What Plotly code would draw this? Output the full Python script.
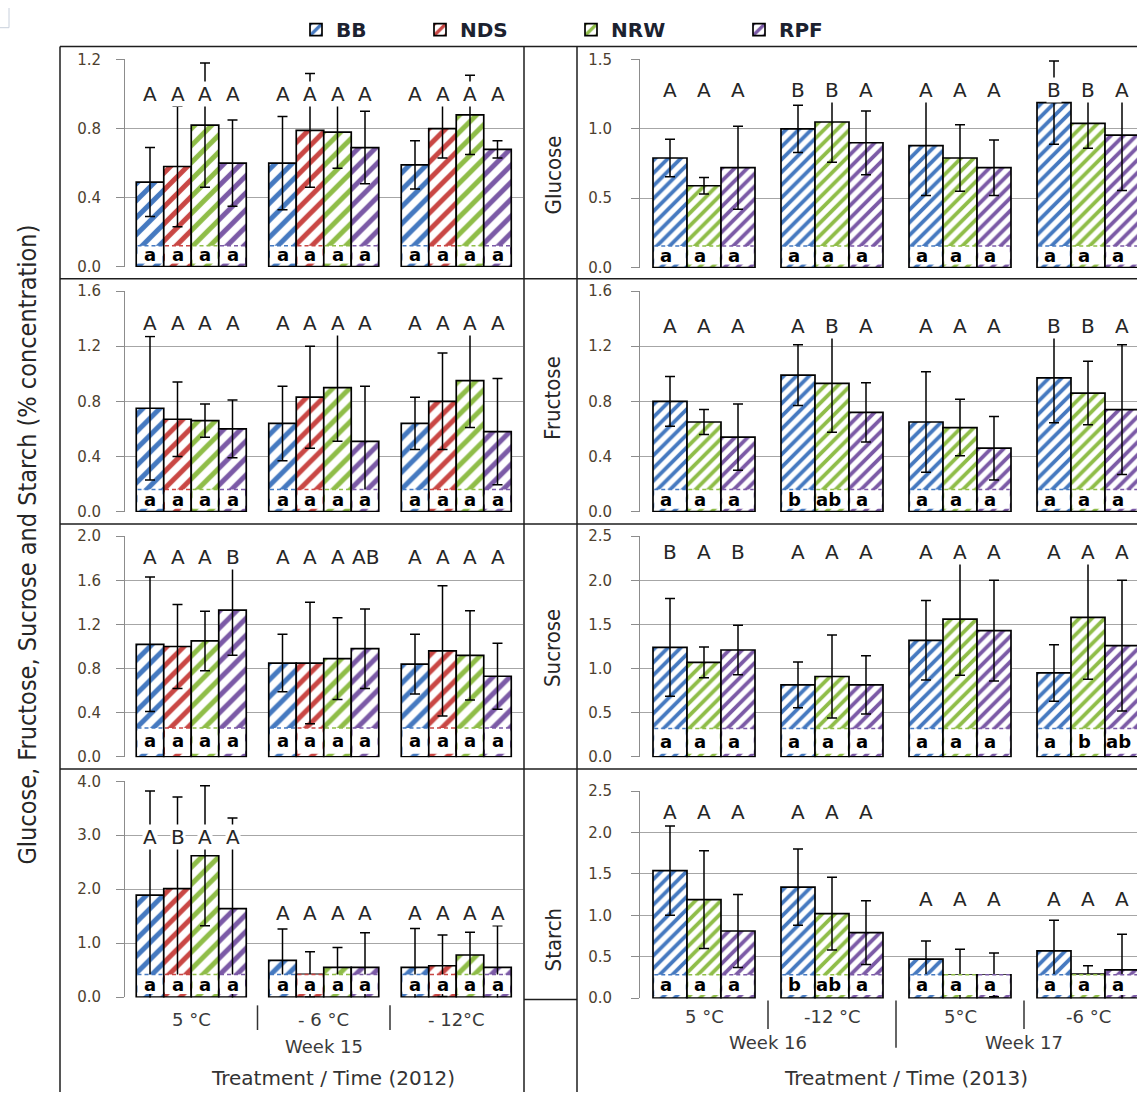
import plotly.graph_objects as go

# ---------------------------------------------------------------- data
SERIES_2012 = ["BB", "NDS", "NRW", "RPF"]
SERIES_2013 = ["BB", "NRW", "RPF"]

TREATMENTS_2012 = ["5 °C", "- 6 °C", "- 12°C"]
WEEKS_2012 = ["Week 15"]
TREATMENTS_2013 = ["5 °C", "-12 °C", "5°C", "-6 °C"]
WEEKS_2013 = ["Week 16", "Week 17"]

SUGARS = ["Glucose", "Fructose", "Sucrose", "Starch"]

# 2012: mean concentration per cultivar, one value per treatment
glucose_2012 = {"BB": [0.49, 0.60, 0.59], "NDS": [0.58, 0.79, 0.80],
                "NRW": [0.82, 0.78, 0.88], "RPF": [0.60, 0.69, 0.68]}
glucose_2012_err = {"BB": [0.20, 0.27, 0.14], "NDS": [0.35, 0.33, 0.17],
                    "NRW": [0.36, 0.21, 0.23], "RPF": [0.25, 0.21, 0.05]}
fructose_2012 = {"BB": [0.75, 0.64, 0.64], "NDS": [0.67, 0.83, 0.80],
                 "NRW": [0.66, 0.90, 0.95], "RPF": [0.60, 0.51, 0.58]}
fructose_2012_err = {"BB": [0.52, 0.27, 0.19], "NDS": [0.27, 0.37, 0.35],
                     "NRW": [0.12, 0.39, 0.34], "RPF": [0.21, 0.40, 0.385]}
sucrose_2012 = {"BB": [1.02, 0.85, 0.84], "NDS": [1.00, 0.85, 0.96],
                "NRW": [1.05, 0.89, 0.92], "RPF": [1.33, 0.98, 0.73]}
sucrose_2012_err = {"BB": [0.61, 0.26, 0.27], "NDS": [0.38, 0.55, 0.59],
                    "NRW": [0.27, 0.37, 0.405], "RPF": [0.41, 0.36, 0.30]}
starch_2012 = {"BB": [1.89, 0.68, 0.55], "NDS": [2.01, 0.42, 0.58],
               "NRW": [2.62, 0.55, 0.78], "RPF": [1.64, 0.55, 0.55]}
starch_2012_err = {"BB": [1.93, 0.58, 0.72], "NDS": [1.70, 0.42, 0.57],
                   "NRW": [1.30, 0.37, 0.42], "RPF": [1.68, 0.64, 0.77]}

# 2012 significance letters (upper: between cultivars, lower: within)
glucose_2012_upper = {"BB": ["A", "A", "A"], "NDS": ["A", "A", "A"],
                      "NRW": ["A", "A", "A"], "RPF": ["A", "A", "A"]}
fructose_2012_upper = {"BB": ["A", "A", "A"], "NDS": ["A", "A", "A"],
                       "NRW": ["A", "A", "A"], "RPF": ["A", "A", "A"]}
sucrose_2012_upper = {"BB": ["A", "A", "A"], "NDS": ["A", "A", "A"],
                      "NRW": ["A", "A", "A"], "RPF": ["B", "AB", "A"]}
starch_2012_upper = {"BB": ["A", "A", "A"], "NDS": ["B", "A", "A"],
                     "NRW": ["A", "A", "A"], "RPF": ["A", "A", "A"]}
lower_2012_all_a = {"BB": ["a", "a", "a"], "NDS": ["a", "a", "a"],
                    "NRW": ["a", "a", "a"], "RPF": ["a", "a", "a"]}

# 2013: Week 16 (5 °C, -12 °C) and Week 17 (5 °C, -6 °C)
glucose_2013 = {"BB": [0.79, 1.00, 0.88, 1.19], "NRW": [0.59, 1.05, 0.79, 1.04],
                "RPF": [0.72, 0.90, 0.72, 0.955]}
glucose_2013_err = {"BB": [0.135, 0.17, 0.36, 0.30], "NRW": [0.06, 0.29, 0.24, 0.18],
                    "RPF": [0.30, 0.23, 0.20, 0.40]}
fructose_2013 = {"BB": [0.80, 0.99, 0.65, 0.97], "NRW": [0.65, 0.93, 0.61, 0.86],
                 "RPF": [0.54, 0.72, 0.46, 0.74]}
fructose_2013_err = {"BB": [0.18, 0.22, 0.365, 0.325], "NRW": [0.09, 0.355, 0.205, 0.23],
                     "RPF": [0.24, 0.215, 0.23, 0.47]}
sucrose_2013 = {"BB": [1.24, 0.815, 1.32, 0.95], "NRW": [1.07, 0.91, 1.56, 1.58],
                "RPF": [1.21, 0.815, 1.43, 1.26]}
sucrose_2013_err = {"BB": [0.555, 0.26, 0.45, 0.32], "NRW": [0.175, 0.47, 0.635, 0.70],
                    "RPF": [0.28, 0.33, 0.57, 0.74]}
starch_2013 = {"BB": [1.54, 1.34, 0.47, 0.57], "NRW": [1.19, 1.02, 0.28, 0.29],
               "RPF": [0.81, 0.79, 0.28, 0.34]}
starch_2013_err = {"BB": [0.54, 0.46, 0.22, 0.37], "NRW": [0.59, 0.44, 0.31, 0.10],
                   "RPF": [0.44, 0.385, 0.265, 0.43]}

glucose_2013_upper = {"BB": ["A", "B", "A", "B"], "NRW": ["A", "B", "A", "B"],
                      "RPF": ["A", "A", "A", "A"]}
glucose_2013_lower = {"BB": ["a", "a", "a", "a"], "NRW": ["a", "a", "a", "a"],
                      "RPF": ["a", "a", "a", "a"]}
fructose_2013_upper = {"BB": ["A", "A", "A", "B"], "NRW": ["A", "B", "A", "B"],
                       "RPF": ["A", "A", "A", "A"]}
fructose_2013_lower = {"BB": ["a", "b", "a", "a"], "NRW": ["a", "ab", "a", "a"],
                       "RPF": ["a", "a", "a", "a"]}
sucrose_2013_upper = {"BB": ["B", "A", "A", "A"], "NRW": ["A", "A", "A", "A"],
                      "RPF": ["B", "A", "A", "A"]}
sucrose_2013_lower = {"BB": ["a", "a", "a", "a"], "NRW": ["a", "a", "a", "b"],
                      "RPF": ["a", "a", "a", "ab"]}
starch_2013_upper = {"BB": ["A", "A", "A", "A"], "NRW": ["A", "A", "A", "A"],
                     "RPF": ["A", "A", "A", "A"]}
starch_2013_lower = {"BB": ["a", "b", "a", "a"], "NRW": ["a", "ab", "a", "a"],
                     "RPF": ["a", "a", "a", "a"]}

# ---------------------------------------------------------------- styling
W, H = 1137, 1101
COLORS = {"BB": "#4579C0", "NDS": "#C94744", "NRW": "#8FBD48", "RPF": "#7B5AA6"}
FONT = "DejaVu Sans, Verdana, sans-serif"
NARROW = "Liberation Sans Narrow, DejaVu Sans Condensed, Arial Narrow, sans-serif"
TICK_COLOR = "#4d3f2f"
GRID = "#a6a6a6"
FRAME = "#1e1e1e"


def xp(p):
    return p / W


def yp(p):
    return 1 - p / H


# pixel geometry of the two columns of panels
LEFT_X = (125, 522.5)
RIGHT_X = (640, 1137)
LEFT_ROWS = [(263, 52), (512, 287), (761, 536), (1005, 785)]
RIGHT_ROWS = [(264, 52), (512, 287), (761, 536), (1006, 795)]
LEFT_UNIT = (LEFT_X[1] - LEFT_X[0]) / 3          # px per treatment group
RIGHT_UNIT = 128.0

panels = [
    # year, row, means, errors, upper, lower, ymax, dtick, band, letter heights
    (2012, 0, glucose_2012, glucose_2012_err, glucose_2012_upper, lower_2012_all_a,
     1.2, 0.4, 0.12, [1.0, 1.0, 1.0]),
    (2012, 1, fructose_2012, fructose_2012_err, fructose_2012_upper, lower_2012_all_a,
     1.6, 0.4, 0.16, [1.365] * 3),
    (2012, 2, sucrose_2012, sucrose_2012_err, sucrose_2012_upper, lower_2012_all_a,
     2.0, 0.4, 0.26, [1.81] * 3),
    (2012, 3, starch_2012, starch_2012_err, starch_2012_upper, lower_2012_all_a,
     4.0, 1.0, 0.42, [2.96, 1.56, 1.56]),
    (2013, 0, glucose_2013, glucose_2013_err, glucose_2013_upper, glucose_2013_lower,
     1.5, 0.5, 0.155, [1.28] * 4),
    (2013, 1, fructose_2013, fructose_2013_err, fructose_2013_upper, fructose_2013_lower,
     1.6, 0.4, 0.16, [1.344] * 4),
    (2013, 2, sucrose_2013, sucrose_2013_err, sucrose_2013_upper, sucrose_2013_lower,
     2.5, 0.5, 0.32, [2.32] * 4),
    (2013, 3, starch_2013, starch_2013_err, starch_2013_upper, starch_2013_lower,
     2.5, 0.5, 0.28, [2.25, 2.25, 1.20, 1.20]),
]

fig = go.Figure()
annotations = []
shapes = []
layout_axes = {}


def paper_text(x, y, text, size, color="#3a3a3a", family=FONT, angle=0, xref="paper"):
    return dict(x=x, y=y, xref=xref, yref="paper", text=text, showarrow=False,
                xanchor="center", yanchor="middle", textangle=angle,
                font=dict(family=family, size=size, color=color))


for k, (year, row, means, errs, upper, lower, ymax, dtick, band, letter_y) in enumerate(panels, start=1):
    s = "" if k == 1 else str(k)
    xa, ya = "x" + s, "y" + s
    if year == 2012:
        series, xdom, (ybot, ytop), unit = SERIES_2012, LEFT_X, LEFT_ROWS[row], LEFT_UNIT
        ngroups, bw, pat_size, lx_shift = len(TREATMENTS_2012), 27.5 / LEFT_UNIT, 12, 0
        tick_standoff = 12
    else:
        series, xdom, (ybot, ytop), unit = SERIES_2013, RIGHT_X, RIGHT_ROWS[row], RIGHT_UNIT
        ngroups, bw, pat_size, lx_shift = len(TREATMENTS_2013), 34 / RIGHT_UNIT, 9, -4
        tick_standoff = 16

    plot_h = ybot - ytop
    xmax = -0.5 + (xdom[1] - xdom[0]) / unit
    eps = ymax * 0.002
    ticks = [round(i * dtick, 3) for i in range(int(round(ymax / dtick)) + 1)]

    layout_axes["xaxis" + s] = dict(domain=[xp(xdom[0]), xp(xdom[1])], range=[-0.5, xmax],
                                    anchor=ya, visible=False, fixedrange=True)
    layout_axes["yaxis" + s] = dict(
        domain=[yp(ybot), yp(ytop)], range=[-eps, ymax + eps], anchor=xa,
        tickmode="array", tickvals=ticks, ticktext=[f"{t:.1f}" for t in ticks],
        showgrid=True, gridcolor=GRID, gridwidth=1, zeroline=False,
        showline=True, linecolor="#8c8c8c", linewidth=1,
        ticks="outside", ticklen=8, tickcolor="#8c8c8c", tickwidth=1,
        ticklabelstandoff=tick_standoff,
        tickfont=dict(family=FONT, size=15, color=TICK_COLOR), fixedrange=True)

    n = len(series)
    gap = 3 * ymax / plot_h                      # thin hatched strip under the label box
    inner = bw - 2.5 / unit
    offsets = {name: (i - (n - 1) / 2) * bw for i, name in enumerate(series)}

    # hatched bars with error bars
    for name in series:
        xs = [g + offsets[name] for g in range(ngroups)]
        fig.add_trace(go.Bar(
            x=xs, y=means[name], width=bw, name=name, xaxis=xa, yaxis=ya,
            marker=dict(color="white",
                        line=dict(color="black", width=1.7),
                        pattern=dict(shape="/", fgcolor=COLORS[name], bgcolor="white",
                                     fgopacity=1, size=pat_size, solidity=0.42)),
            error_y=dict(type="data", array=errs[name], symmetric=True,
                         color="black", thickness=1.5, width=5),
            showlegend=(k == 1), legend={"BB": "legend", "NDS": "legend2",
                                         "NRW": "legend3", "RPF": "legend4"}[name],
            hoverinfo="skip"))

    # white label boxes at the foot of every bar
    for name in series:
        xs = [g + offsets[name] for g in range(ngroups)]
        fig.add_trace(go.Bar(
            x=xs, y=[band - gap] * ngroups, base=gap, width=inner, xaxis=xa, yaxis=ya,
            marker=dict(color="white", line=dict(width=0)),
            showlegend=False, hoverinfo="skip"))

    # dashed coloured top edge of the label boxes
    for name in series:
        lx, ly = [], []
        for g in range(ngroups):
            c = g + offsets[name]
            lx += [c - inner / 2, c + inner / 2, None]
            ly += [band, band, None]
        fig.add_trace(go.Scatter(
            x=lx, y=ly, mode="lines", xaxis=xa, yaxis=ya,
            line=dict(color=COLORS[name], width=1.5, dash="4px,3px"),
            showlegend=False, hoverinfo="skip"))

    # significance letters
    for name in series:
        for g in range(ngroups):
            c = g + offsets[name]
            annotations.append(dict(
                x=c, y=letter_y[g], xref=xa, yref=ya, text=upper[name][g], showarrow=False,
                xanchor="center", yanchor="middle",
                font=dict(family=FONT, size=20, color="#262626"),
                bgcolor="white", borderpad=0))
            annotations.append(dict(
                x=c, y=band / 2 + gap / 2, xref=xa, yref=ya, text=lower[name][g],
                showarrow=False, xshift=lx_shift, xanchor="center", yanchor="middle",
                font=dict(family=FONT, size=18, color="black", weight="bold")))

fig.update_layout(**layout_axes)

# treatment / week labels under the bottom panels
for g, lab in enumerate(TREATMENTS_2012):
    annotations.append(paper_text(g, yp(1027), lab, 18, xref="x4"))
annotations.append(paper_text((len(TREATMENTS_2012) - 1) / 2, yp(1055), WEEKS_2012[0], 18,
                              xref="x4"))
annotations.append(paper_text(xp(333), yp(1087), "Treatment / Time (2012)", 20, "#333333"))
for g, lab in enumerate(TREATMENTS_2013):
    annotations.append(paper_text(g, yp(1024), lab, 18, xref="x8"))
for w, lab in enumerate(WEEKS_2013):
    annotations.append(paper_text(2 * w + 0.5, yp(1051), lab, 18, xref="x8"))
annotations.append(paper_text(xp(906), yp(1087), "Treatment / Time (2013)", 20, "#333333"))

# group separators on the category axes
for sep in [0.5, 1.5]:
    shapes.append(dict(type="line", xref="x4", yref="paper", x0=sep, x1=sep,
                       y0=yp(1013), y1=yp(1038), line=dict(color="#333333", width=1.5)))
for sep, bottom in [(0.5, 1037), (1.5, 1056), (2.5, 1037)]:
    shapes.append(dict(type="line", xref="x8", yref="paper", x0=sep, x1=sep,
                       y0=yp(1008), y1=yp(bottom), line=dict(color="#333333", width=1.5)))

# sugar names beside the 2013 panels
for lab, yc in zip(SUGARS, [170, 396, 650, 946]):
    annotations.append(paper_text(xp(553), yp(yc), lab, 22, "#262626", NARROW, -90))

# shared y-axis title
annotations.append(paper_text(xp(28), yp(545),
                              "Glucose, Fructose, Sucrose and Starch (% concentration)",
                              25, "#262626", NARROW, -90))

# table-like frame around the panels
frame = [
    (60, 39, W, 39), (60, 275, W, 275), (60, 524, W, 524), (60, 773, W, 773),
    (60, 39, 60, H), (524, 39, 524, H), (577, 39, 577, H), (524, 1007, 577, 1007),
]
for x0, y0, x1, y1 in frame:
    shapes.append(dict(type="line", xref="paper", yref="paper", x0=xp(x0), y0=yp(y0),
                       x1=xp(x1), y1=yp(y1), line=dict(color=FRAME, width=1.5)))
shapes.append(dict(type="line", xref="paper", yref="paper", x0=xp(9), y0=yp(0),
                   x1=xp(9), y1=yp(20), line=dict(color="#c8d0dc", width=1)))
shapes.append(dict(type="line", xref="paper", yref="paper", x0=xp(0), y0=yp(20),
                   x1=xp(9), y1=yp(20), line=dict(color="#c8d0dc", width=1)))

legend_font = dict(family=FONT, size=20, color="#1c2230", weight="bold")
legends = {}
for key, cx in zip(["legend", "legend2", "legend3", "legend4"], [316, 440, 591, 759]):
    legends[key] = dict(x=xp(cx - 20), y=yp(22), xanchor="left", yanchor="middle",
                        orientation="h", font=legend_font, bgcolor="rgba(0,0,0,0)",
                        itemwidth=30, borderwidth=0)

fig.update_layout(
    width=W, height=H, margin=dict(l=0, r=0, t=0, b=0),
    paper_bgcolor="white", plot_bgcolor="white",
    barmode="overlay", annotations=annotations, shapes=shapes,
    **legends)

fig.write_html("out.html")
